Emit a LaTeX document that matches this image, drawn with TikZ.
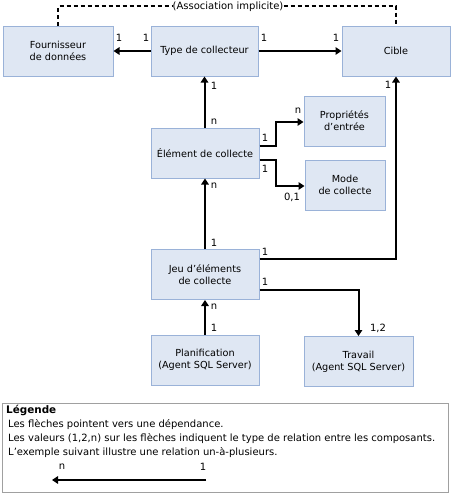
\documentclass[tikz,border=0pt]{standalone}
\usepackage{fontspec}
\setmainfont{DejaVu Sans}
\usetikzlibrary{arrows.meta}
\definecolor{boxfill}{HTML}{DFE7F3}
\definecolor{boxline}{HTML}{9AB2D8}
\definecolor{legline}{HTML}{A0A0A0}
\begin{document}
\begin{tikzpicture}[x=1pt,y=-1pt,
  font=\fontsize{9.7}{12}\selectfont,
  ent/.style={draw=boxline,fill=boxfill,line width=1pt,minimum width=#1,minimum height=50pt,inner sep=0pt,align=center},
  ent/.default=108pt,
  rel/.style={line width=2pt,-{Triangle[length=6pt,width=7.5pt]}},
  lbl/.style={inner sep=0pt,font=\fontsize{10}{12}\selectfont}]
\useasboundingbox (0,0) rectangle (451,493);
\fill[white] (0,0) rectangle (451,493);
% entities
\node[ent=110pt] (four) at (58,51) {Fournisseur\\de données};
\node[ent=107pt] (type) at (204.5,51) {Type de collecteur};
\node[ent=108pt] (cible) at (396,51) {Cible};
\node[ent=81pt] (prop) at (344.5,121) {Propriétés\\d'entrée};
\node[ent=108pt] (elem) at (205,153) {Élément de collecte};
\node[ent=80pt] (mode) at (345,185) {Mode\\de collecte};
\node[ent=108pt] (jeu) at (205,274.5) {Jeu d'éléments\\de collecte};
\node[ent=108pt] (plan) at (205,360) {Planification\\(Agent SQL Server)};
\node[ent=109pt] (trav) at (358.5,361.5) {Travail\\(Agent SQL Server)};
% implicit association
\coordinate (d1) at (58,6);
\coordinate (d2) at (396,6);
\draw[line width=1.5pt,dash pattern=on 4pt off 3pt] (four.north) -- (d1) -- (d2) -- (cible.north);
\node[fill=white,inner sep=2pt,lbl] (assoc) at (228,7) {(Association implicite)};
% connectors
\draw[rel] (type.west) -- (four.east);
\node[lbl] at (119,38) {1};
\node[lbl] at (146,38) {1};
\draw[rel] (type.east) -- (cible.west);
\node[lbl] at (264,38) {1};
\node[lbl] at (336,38) {1};
\draw[rel] (elem.north -| type.south) -- (type.south);
\node[lbl] at (214,86) {1};
\node[lbl] at (214,122) {n};
\draw[rel] ([yshift=7pt]elem.east) -| (276,122) -- (prop.west |- 0,122);
\node[lbl] at (265,138) {1};
\node[lbl] at (298,111) {n};
\draw[rel] ([yshift=-7pt]elem.east) -| (276,186) -- (mode.west |- 0,186);
\node[lbl] at (265,169) {1};
\node[lbl] at (292,197) {0,1};
\draw[rel] (jeu.north) -- (elem.south);
\node[lbl] at (214,186) {n};
\node[lbl] at (214,243) {1};
\draw[rel] ([yshift=16pt]jeu.east) -| (cible.south);
\node[lbl] at (265,252) {1};
\node[lbl] at (388,85) {1};
\draw[rel] ([yshift=-15pt]jeu.east) -| (trav.north);
\node[lbl] at (265,282) {1};
\node[lbl] at (378,328) {1,2};
\draw[rel] (plan.north) -- (jeu.south);
\node[lbl] at (214,307) {n};
\node[lbl] at (214,328) {1};
% legend
\node[draw=legline,fill=white,line width=1pt,minimum width=446pt,minimum height=89pt,inner sep=0pt] (leg) at (225,447.5) {};
\node[anchor=west,inner sep=0pt,font=\fontsize{10.4}{12}\selectfont\bfseries] (legt) at (6,410.5) {Légende};
\node[anchor=west,lbl] (l1) at (8,424.5) {Les flèches pointent vers une dépendance.};
\node[anchor=west,lbl] (l2) at (8,438.5) {Les valeurs (1,2,n) sur les flèches indiquent le type de relation entre les composants.};
\node[anchor=west,lbl] (l3) at (8,452.5) {L'exemple suivant illustre une relation un-à-plusieurs.};
\coordinate (ea) at (206,480);
\coordinate (eb) at (52,480);
\draw[rel] (ea) -- (eb);
\node[lbl] at (62,467) {n};
\node[lbl] at (203,467) {1};
\end{tikzpicture}
\end{document}
